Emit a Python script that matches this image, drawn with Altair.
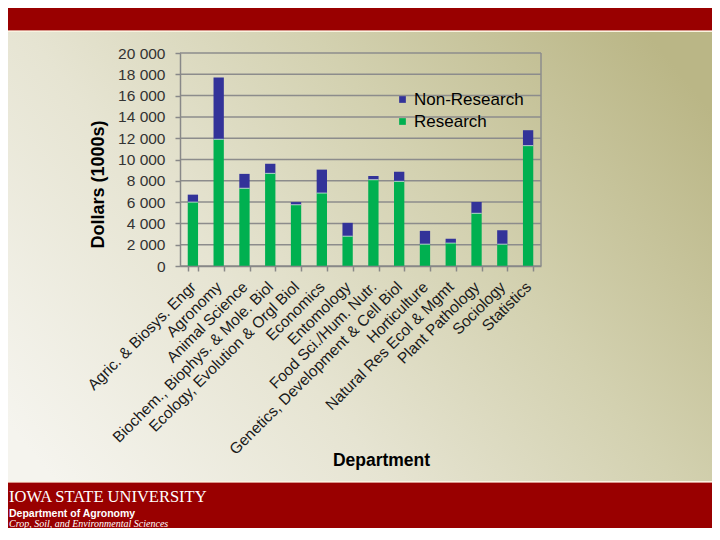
import altair as alt
import pandas as pd

departments = [
    "Agric. & Biosys. Engr", "Agronomy", "Animal Science",
    "Biochem., Biophys. & Mole. Biol", "Ecology, Evolution & Orgl Biol",
    "Economics", "Entomology", "Food Sci./Hum. Nutr.",
    "Genetics, Development & Cell Biol", "Horticulture",
    "Natural Res Ecol & Mgmt", "Plant Pathology", "Sociology", "Statistics",
]
research = [6000, 11900, 7300, 8700, 5750, 6850, 2800, 8100, 7950, 2050, 2150, 4950, 2050, 11300]
non_research = [700, 5800, 1350, 900, 250, 2200, 1250, 350, 900, 1250, 400, 1050, 1300, 1450]
series = ["Non-Research", "Research"]
y_ticks = [0, 2000, 4000, 6000, 8000, 10000, 12000, 14000, 16000, 18000, 20000]

rows = []
for d, r, n in zip(departments, research, non_research):
    rows.append({"Department": d, "Type": "Research", "Value": r, "ord": 0})
    rows.append({"Department": d, "Type": "Non-Research", "Value": n, "ord": 1})
df = pd.DataFrame(rows)
junction = pd.DataFrame({"Department": departments, "Value": research})
grid = pd.DataFrame({"Value": y_ticks})
one = pd.DataFrame({"a": [0]})

W, H = 361, 213
PL, PT, PR, PB = 172, 45, 171, 262
LEFT, RIGHT, TOP, BOTTOM = -PL, W + PR, -PT, H + PB

xscale = alt.Scale(domain=departments, paddingInner=0.6, paddingOuter=0.3)
yscale = alt.Scale(domain=[0, 20000], nice=False)

x_axis = alt.Axis(
    title="Department", titleFontSize=17.5, titleFontWeight="bold", titleColor="black",
    titleX=201, titleY=199, titleBaseline="alphabetic", titleAlign="center",
    labelAngle=-45, labelAlign="right", labelBaseline="middle", labelFontSize=15.5,
    labelColor="#1a1a1a", labelPadding=13, labelLimit=400, labelOverlap=False,
    tickBand="extent", tickSize=5, tickColor="#888888", tickWidth=1.5,
    domainColor="#888888", domainWidth=1.5, grid=False, zindex=1,
)
y_axis = alt.Axis(
    title="Dollars (1000s)", titleFontSize=18, titleFontWeight="bold", titleColor="black",
    titleAngle=270, titleX=-82, titleY=131, titleAlign="center", titleBaseline="middle",
    values=y_ticks, labelExpr="replace(format(datum.value, ','), ',', ' ')",
    labelFontSize=15.5, labelColor="#333333", labelPadding=10, labelOverlap=False,
    labelFlush=False, labelBound=False,
    tickSize=5, tickColor="#888888", tickWidth=1.5,
    domainColor="#888888", domainWidth=1.5, grid=False, zindex=1,
)

bg = alt.Chart(one).mark_rect(
    fill=alt.LinearGradient(
        gradient="linear",
        stops=[
            alt.GradientStop(color="#F5F4EE", offset=0),
            alt.GradientStop(color="#E6E4D2", offset=0.35),
            alt.GradientStop(color="#D3D1B0", offset=0.65),
            alt.GradientStop(color="#BAB686", offset=1),
        ],
        x1=0, y1=0.8, x2=1, y2=0.2,
    )
).encode(x=alt.value(LEFT), x2=alt.value(RIGHT), y=alt.value(TOP), y2=alt.value(BOTTOM))

def band(y1, y2, color):
    return alt.Chart(one).mark_rect(fill=color).encode(
        x=alt.value(LEFT), x2=alt.value(RIGHT), y=alt.value(y1), y2=alt.value(y2))

top_red = band(TOP, -23, "#990000")
top_pink = band(-23, -22, "#D8948A")
top_cream = band(-22, -21, "#FAF3E0")
bot_cream = band(428, 429, "#FAF3E0")
bot_pink = band(429, 430, "#D8948A")
bot_red = band(430, BOTTOM, "#990000")

def label(text, y, font, size, weight="normal", style="normal"):
    return alt.Chart(one).mark_text(
        text=text, font=font, fontSize=size, fontWeight=weight, fontStyle=style,
        color="white", align="left", baseline="alphabetic",
    ).encode(x=alt.value(-171), y=alt.value(y))

isu = label("IOWA STATE UNIVERSITY", 449, "Liberation Serif", 16.5)
dept = label("Department of Agronomy", 463.5, "Liberation Sans", 10.5, weight="bold")
crop = label("Crop, Soil, and Environmental Sciences", 474, "Liberation Serif", 10, style="italic")

gridlines = alt.Chart(grid).mark_rule(color="#8C8C8C", strokeWidth=1.5).encode(
    y=alt.Y("Value:Q", scale=yscale, axis=y_axis))

bars = alt.Chart(df).mark_bar().encode(
    x=alt.X("Department:N", scale=xscale, axis=x_axis),
    y=alt.Y("Value:Q", stack="zero", scale=yscale, axis=y_axis),
    color=alt.Color(
        "Type:N",
        scale=alt.Scale(domain=series, range=["#333399", "#00B050"]),
        legend=alt.Legend(
            title=None, orient="none", legendX=214, legendY=38, symbolType="square",
            symbolSize=45, symbolStrokeWidth=0, labelFontSize=17, labelColor="black",
            labelOffset=3, rowPadding=4, padding=0,
        ),
    ),
    order=alt.Order("ord:Q", sort="ascending"),
)

joins = alt.Chart(junction).mark_tick(color="#E6F5E9", thickness=1, size=10).encode(
    x=alt.X("Department:N", scale=xscale, axis=x_axis),
    y=alt.Y("Value:Q", scale=yscale, axis=y_axis),
)

right_border = alt.Chart(one).mark_rule(color="#8C8C8C", strokeWidth=1.5).encode(
    x=alt.value(W), y=alt.value(0), y2=alt.value(H))

chart = alt.layer(
    bg, top_red, top_pink, top_cream, bot_cream, bot_pink, bot_red,
    isu, dept, crop, gridlines, bars, joins, right_border,
).properties(
    width=W, height=H,
    autosize=alt.AutoSizeParams(type="none"),
    padding={"left": PL, "top": PT, "right": PR, "bottom": PB},
).configure(
    font="Liberation Sans", background="#DDDBC3",
).configure_view(strokeWidth=0).configure_axisY(labelOverlap=False)

chart.save("out.html", embed_options={"renderer": "svg", "actions": False})
